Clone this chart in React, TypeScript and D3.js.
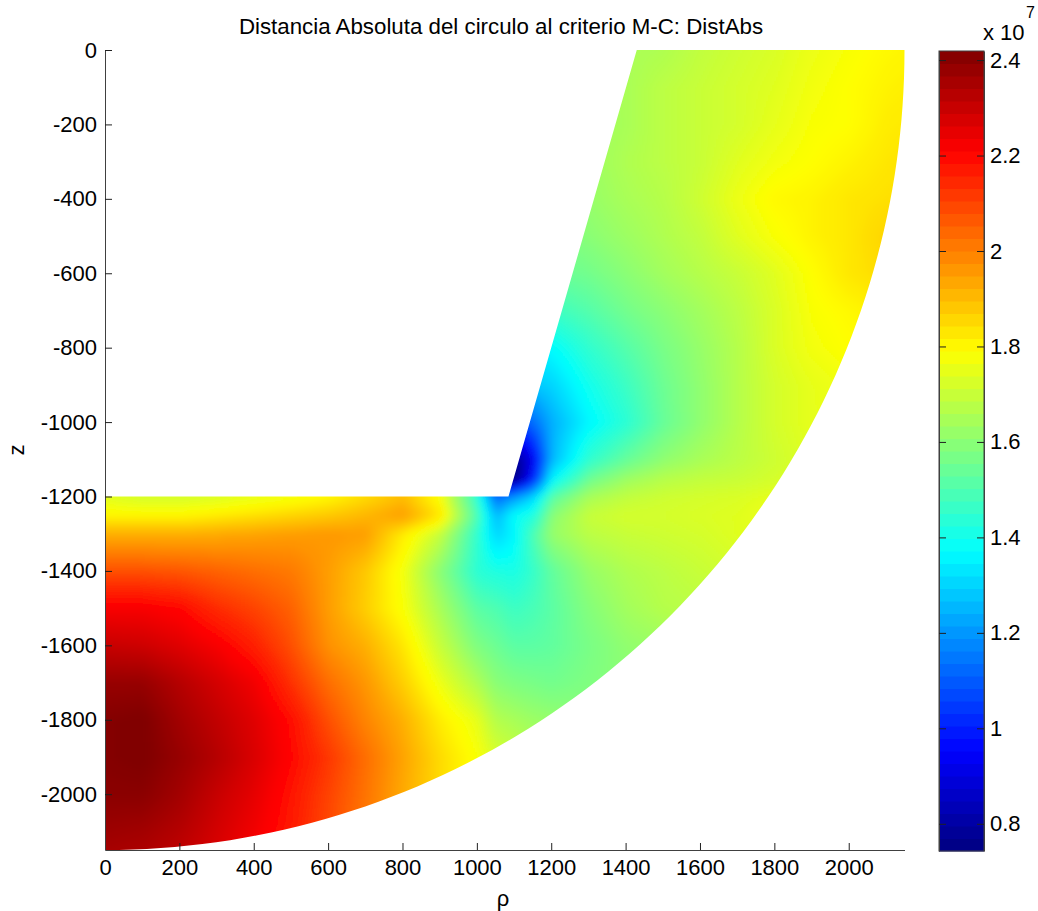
import * as d3 from "d3";
import React from "react";

const _ = null;

// rho and z positions of the sampled nodes
const rhoNodes = [0, 100, 200, 300, 400, 500, 600, 700, 800, 900, 1000, 1050, 1100, 1150, 1200, 1300, 1400, 1500, 1600, 1700, 1800, 1900, 2000, 2100, 2200];
const zNodes = [0, -100, -200, -300, -400, -500, -600, -700, -800, -900, -1000, -1100, -1150, -1200, -1250, -1300, -1400, -1500, -1600, -1700, -1800, -1900, -2000, -2100, -2200];

// DistAbs in units of 1e7, one row for each z node
const distAbs = [
  [_, _, _, _, _, _, _, _, _, _, _, _, _, _, _, _, 1.65, 1.66, 1.69, 1.71, 1.73, 1.76, 1.78, 1.8, 1.81],
  [_, _, _, _, _, _, _, _, _, _, _, _, _, _, _, _, 1.65, 1.68, 1.7, 1.72, 1.74, 1.77, 1.79, 1.81, 1.82],
  [_, _, _, _, _, _, _, _, _, _, _, _, _, _, _, 1.63, 1.65, 1.68, 1.7, 1.72, 1.75, 1.78, 1.79, 1.82, 1.83],
  [_, _, _, _, _, _, _, _, _, _, _, _, _, _, _, 1.63, 1.66, 1.68, 1.7, 1.74, 1.77, 1.79, 1.81, 1.83, 1.84],
  [_, _, _, _, _, _, _, _, _, _, _, _, _, _, _, 1.62, 1.65, 1.67, 1.71, 1.76, 1.8, 1.81, 1.83, 1.84, 1.85],
  [_, _, _, _, _, _, _, _, _, _, _, _, _, _, 1.57, 1.6, 1.63, 1.66, 1.69, 1.74, 1.78, 1.81, 1.83, 1.86, 1.87],
  [_, _, _, _, _, _, _, _, _, _, _, _, _, _, 1.54, 1.56, 1.6, 1.64, 1.67, 1.7, 1.74, 1.79, 1.83, 1.85, 1.85],
  [_, _, _, _, _, _, _, _, _, _, _, _, _, 1.44, 1.47, 1.51, 1.56, 1.6, 1.64, 1.68, 1.73, 1.78, 1.8, 1.82, 1.82],
  [_, _, _, _, _, _, _, _, _, _, _, _, _, 1.35, 1.37, 1.45, 1.51, 1.57, 1.62, 1.67, 1.73, 1.77, 1.79, 1.79, 1.79],
  [_, _, _, _, _, _, _, _, _, _, _, _, _, 1.28, 1.3, 1.4, 1.47, 1.55, 1.61, 1.67, 1.72, 1.75, 1.77, 1.77, 1.77],
  [_, _, _, _, _, _, _, _, _, _, _, _, 1.06, 1.13, 1.24, 1.36, 1.44, 1.54, 1.61, 1.67, 1.72, 1.75, 1.75, 1.75, 1.75],
  [_, _, _, _, _, _, _, _, _, _, _, _, 0.76, 0.93, 1.25, 1.45, 1.54, 1.61, 1.65, 1.68, 1.71, 1.74, 1.75, 1.75, 1.75],
  [_, _, _, _, _, _, _, _, _, _, _, 0.72, 0.72, 0.98, 1.35, 1.55, 1.63, 1.67, 1.69, 1.7, 1.72, 1.74, 1.75, 1.75, 1.75],
  [1.74, 1.72, 1.72, 1.73, 1.75, 1.77, 1.8, 1.85, 1.9, 1.78, 1.45, 1.12, 1.2, 1.3, 1.52, 1.65, 1.69, 1.71, 1.72, 1.73, 1.75, 1.76, 1.76, 1.76, 1.76],
  [1.8, 1.8, 1.8, 1.82, 1.84, 1.86, 1.88, 1.91, 1.95, 1.83, 1.5, 1.25, 1.38, 1.42, 1.6, 1.7, 1.72, 1.72, 1.73, 1.74, 1.76, 1.76, 1.76, 1.76, 1.76],
  [1.92, 1.92, 1.92, 1.93, 1.94, 1.95, 1.96, 1.95, 1.82, 1.7, 1.45, 1.3, 1.36, 1.5, 1.62, 1.68, 1.7, 1.71, 1.72, 1.74, 1.75, 1.75, 1.75, 1.75, 1.75],
  [2.08, 2.08, 2.07, 2.05, 2.03, 2.01, 1.95, 1.88, 1.77, 1.6, 1.44, 1.42, 1.41, 1.46, 1.53, 1.62, 1.66, 1.68, 1.7, 1.72, 1.72, 1.72, 1.72, 1.72, 1.72],
  [2.22, 2.22, 2.2, 2.14, 2.1, 2.05, 1.95, 1.87, 1.78, 1.65, 1.52, 1.5, 1.47, 1.49, 1.52, 1.59, 1.64, 1.67, 1.68, 1.69, 1.7, 1.7, 1.7, 1.7, 1.7],
  [2.3, 2.29, 2.26, 2.22, 2.16, 2.08, 1.97, 1.92, 1.83, 1.7, 1.58, 1.55, 1.52, 1.52, 1.53, 1.57, 1.61, 1.63, 1.65, 1.66, 1.67, 1.67, 1.67, 1.67, 1.67],
  [2.38, 2.38, 2.33, 2.28, 2.23, 2.13, 2.03, 1.96, 1.87, 1.76, 1.66, 1.6, 1.58, 1.57, 1.56, 1.58, 1.6, 1.62, 1.63, 1.63, 1.63, 1.63, 1.63, 1.63, 1.63],
  [2.41, 2.42, 2.36, 2.31, 2.26, 2.19, 2.08, 1.99, 1.92, 1.82, 1.75, 1.67, 1.65, 1.63, 1.62, 1.6, 1.6, 1.6, 1.6, 1.6, 1.6, 1.6, 1.6, 1.6, 1.6],
  [2.41, 2.42, 2.38, 2.33, 2.27, 2.2, 2.12, 2.03, 1.94, 1.85, 1.78, 1.73, 1.7, 1.67, 1.65, 1.62, 1.6, 1.6, 1.6, 1.6, 1.6, 1.6, 1.6, 1.6, 1.6],
  [2.4, 2.4, 2.36, 2.3, 2.25, 2.18, 2.1, 2.02, 1.93, 1.85, 1.78, 1.75, 1.72, 1.7, 1.68, 1.64, 1.62, 1.6, 1.6, 1.6, 1.6, 1.6, 1.6, 1.6, 1.6],
  [2.37, 2.36, 2.33, 2.28, 2.23, 2.17, 2.09, 2.01, 1.93, 1.86, 1.8, _, _, _, _, _, _, _, _, _, _, _, _, _, _],
  [2.34, 2.33, 2.3, 2.26, 2.21, 2.15, 2.08, 2.0, 1.93, _, _, _, _, _, _, _, _, _, _, _, _, _, _, _, _],
];

const rhoTicks = [0, 200, 400, 600, 800, 1000, 1200, 1400, 1600, 1800, 2000];
const zTicks = [0, -200, -400, -600, -800, -1000, -1200, -1400, -1600, -1800, -2000];
const cbarTicks = [0.8, 1, 1.2, 1.4, 1.6, 1.8, 2, 2.2, 2.4];

const cLim: [number, number] = [0.743, 2.419];
const rhoMax = 2150;
const zMin = -2150;
// corner of the region, and where its slanted side meets z = 0
const corner = [1085, -1200];
const slantTop = [1430, 0];

const fontFamily = "'Liberation Sans', Arial, sans-serif";

// matlab's jet map, the bar shows 64 steps and the field is shaded finer
const jetMap = (n: number) =>
  d3.range(n).map((i) => {
    const t = (i + 0.5) / n;
    const ramp = (v: number) => Math.round(255 * Math.max(0, Math.min(1, v)));
    const r = ramp(Math.min(4 * t - 1.5, -4 * t + 4.5));
    const g = ramp(Math.min(4 * t - 0.5, -4 * t + 3.5));
    const b = ramp(Math.min(4 * t + 0.5, -4 * t + 2.5));
    return `rgb(${r},${g},${b})`;
  });
const jetColors = jetMap(64);
const fieldColors = jetMap(256);

// bilinear lookup in the node table, skipping nodes outside of the region
const sample = (rho: number, z: number) => {
  const i1 = Math.max(1, Math.min(rhoNodes.length - 1, d3.bisectRight(rhoNodes, rho)));
  const j1 = Math.max(1, Math.min(zNodes.length - 1, d3.bisector((d: number) => -d).right(zNodes, -z)));
  const i0 = i1 - 1;
  const j0 = j1 - 1;
  const u = Math.max(0, Math.min(1, (rho - rhoNodes[i0]) / (rhoNodes[i1] - rhoNodes[i0])));
  const v = Math.max(0, Math.min(1, (z - zNodes[j0]) / (zNodes[j1] - zNodes[j0])));
  const nodes: [number | null, number][] = [
    [distAbs[j0][i0], (1 - u) * (1 - v)],
    [distAbs[j0][i1], u * (1 - v)],
    [distAbs[j1][i0], (1 - u) * v],
    [distAbs[j1][i1], u * v],
  ];
  let sum = 0;
  let weight = 0;
  nodes.forEach(([val, w]) => {
    if (val !== null) {
      sum += val * w;
      weight += w;
    }
  });
  return weight > 0 ? sum / weight : null;
};

const App = () => {
  const ref = React.useRef<SVGSVGElement>(null);

  React.useEffect(() => {
    const svg = d3.select(ref.current);
    svg.selectAll("*").remove();

    const x = d3.scaleLinear().domain([0, rhoMax]).range([105, 904.5]);
    const y = d3.scaleLinear().domain([0, zMin]).range([50, 850]);
    const color = d3.scaleQuantize<string>().domain(cLim).range(fieldColors);

    // region outline, the outer edge is a circle around the origin
    const arcPoints = d3.range(0, 91).map((deg) => {
      const a = (deg * Math.PI) / 180;
      return [rhoMax * Math.cos(a), -rhoMax * Math.sin(a)];
    });
    const outline = [[0, corner[1]], corner, slantTop, ...arcPoints, [0, zMin]];
    const line = d3.line<number[]>().x((d) => x(d[0])).y((d) => y(d[1]));

    const defs = svg.append("defs");
    defs
      .append("clipPath")
      .attr("id", "region")
      .append("path")
      .attr("d", line(outline) + "Z");
    defs
      .append("filter")
      .attr("id", "soften")
      .attr("filterUnits", "userSpaceOnUse")
      .attr("x", 60)
      .attr("y", 10)
      .attr("width", 900)
      .attr("height", 890)
      .append("feGaussianBlur")
      .attr("stdDeviation", 4);

    // field: small cells gathered into one path for each colour
    const step = 2;
    const cells = new Map<string, string[]>();
    for (let px = 81; px < 930; px += step) {
      for (let py = 26; py < 875; py += step) {
        const val = sample(x.invert(px + step / 2), y.invert(py + step / 2));
        if (val === null) continue;
        const c = color(val);
        if (!cells.has(c)) cells.set(c, []);
        cells.get(c)!.push(`M${px} ${py}h${step + 0.5}v${step + 0.5}h${-step - 0.5}Z`);
      }
    }
    svg
      .append("g")
      .attr("clip-path", "url(#region)")
      .append("g")
      .attr("filter", "url(#soften)")
      .selectAll("path")
      .data(Array.from(cells.entries()))
      .enter()
      .append("path")
      .attr("fill", (d) => d[0])
      .attr("shape-rendering", "crispEdges")
      .attr("d", (d) => d[1].join(""));

    const styleAxis = (g: any) => {
      g.selectAll("path").attr("stroke", "#404040");
      g.selectAll("line").attr("stroke", "#202020");
      g.selectAll("text")
        .attr("font-family", fontFamily)
        .attr("font-size", 22)
        .attr("fill", "#000");
    };

    const xAxis = d3
      .axisBottom(x)
      .tickValues(rhoTicks)
      .tickSizeInner(-7)
      .tickSizeOuter(0)
      .tickPadding(9)
      .tickFormat((d) => String(d));
    svg.append("g").attr("transform", "translate(0,850)").call(xAxis).call(styleAxis);

    const yAxis = d3
      .axisLeft(y)
      .tickValues(zTicks)
      .tickSizeInner(-7)
      .tickSizeOuter(0)
      .tickPadding(8)
      .tickFormat((d) => String(d));
    svg.append("g").attr("transform", "translate(105,0)").call(yAxis).call(styleAxis);

    // colorbar
    const cb = d3.scaleLinear().domain(cLim).range([851, 51]);
    const band = d3
      .scaleBand<string>()
      .domain(d3.range(64).map(String))
      .range([851, 51]);
    svg
      .append("g")
      .selectAll("rect")
      .data(jetColors)
      .enter()
      .append("rect")
      .attr("x", 939)
      .attr("width", 45)
      .attr("y", (_d, i) => band(String(i))!)
      .attr("height", band.bandwidth() + 0.5)
      .attr("fill", (d) => d);
    svg
      .append("rect")
      .attr("x", 939)
      .attr("y", 51)
      .attr("width", 45)
      .attr("height", 800)
      .attr("fill", "none")
      .attr("stroke", "#404040");

    const cbRight = d3
      .axisRight(cb)
      .tickValues(cbarTicks)
      .tickSizeInner(-7)
      .tickSizeOuter(0)
      .tickPadding(6)
      .tickFormat((d) => String(d));
    svg.append("g").attr("transform", "translate(984,0)").call(cbRight).call(styleAxis);

    const cbLeft = d3
      .axisLeft(cb)
      .tickValues(cbarTicks)
      .tickSizeInner(-7)
      .tickSizeOuter(0)
      .tickFormat(() => "");
    svg.append("g").attr("transform", "translate(939,0)").call(cbLeft).call(styleAxis);

    const addText = (txt: string, px: number, py: number, size: number, anchor = "middle") =>
      svg
        .append("text")
        .attr("x", px)
        .attr("y", py)
        .attr("text-anchor", anchor)
        .attr("font-family", fontFamily)
        .attr("font-size", size)
        .attr("fill", "#000")
        .text(txt);

    addText("Distancia Absoluta del circulo al criterio M-C: DistAbs", 501, 34, 22.3);
    addText("x 10", 983, 40, 22, "start");
    addText("7", 1026, 18, 16, "start");
    addText("ρ", 503, 906, 22);
    addText("z", 0, 0, 22).attr("transform", "translate(24,450) rotate(-90)");
  }, []);

  return (
    <svg
      ref={ref}
      width={1038}
      height={911}
      style={{ position: "absolute", left: 0, top: 0, background: "#fff" }}
    />
  );
};

export default App;
